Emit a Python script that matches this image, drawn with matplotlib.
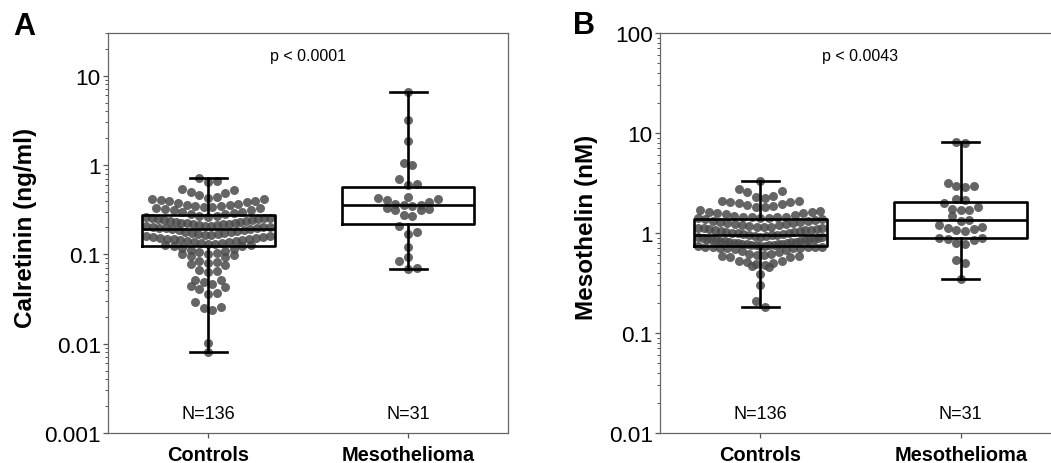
import numpy as np
import matplotlib
matplotlib.use("Agg")
import matplotlib.pyplot as plt

plt.rcParams['font.family'] = ['Liberation Sans', 'DejaVu Sans']

# ---------------- data ----------------
groups = ["Controls", "Mesothelioma"]
group_n = ["N=136", "N=31"]

calretinin_controls = [
    0.008, 0.0102, 0.024, 0.025, 0.026, 0.029, 0.036, 0.037, 0.041, 0.043,
    0.044, 0.047, 0.049, 0.051, 0.052, 0.063, 0.065, 0.067, 0.075, 0.077,
    0.080, 0.082, 0.085, 0.094, 0.096, 0.098, 0.100, 0.102, 0.104, 0.106,
    0.110, 0.113, 0.116, 0.119,
    0.124, 0.125, 0.127, 0.128, 0.130, 0.131, 0.133, 0.135, 0.136, 0.138,
    0.140, 0.142, 0.143, 0.145, 0.147, 0.149, 0.150, 0.152, 0.154, 0.156,
    0.158, 0.160, 0.162, 0.164, 0.166, 0.168, 0.170, 0.172, 0.175, 0.177,
    0.180, 0.183, 0.186, 0.189,
    0.191, 0.193, 0.195, 0.197, 0.199, 0.200, 0.202, 0.204, 0.206, 0.208,
    0.210, 0.212, 0.214, 0.216, 0.218, 0.220, 0.222, 0.225, 0.227, 0.230,
    0.232, 0.235, 0.238, 0.240, 0.243, 0.246, 0.249, 0.252, 0.255, 0.258,
    0.261, 0.264, 0.267, 0.270,
    0.28, 0.28, 0.29, 0.30, 0.30, 0.31, 0.31, 0.32, 0.33, 0.33,
    0.34, 0.34, 0.35, 0.35, 0.36, 0.36, 0.37, 0.38, 0.39, 0.40,
    0.40, 0.41, 0.42, 0.42, 0.43, 0.44, 0.46, 0.48, 0.50, 0.52,
    0.54, 0.64, 0.66, 0.72,
]
calretinin_meso = [
    0.068, 0.071, 0.085, 0.093, 0.122, 0.170, 0.176, 0.210, 0.265, 0.275,
    0.310, 0.315, 0.325, 0.330, 0.345, 0.355, 0.360, 0.370, 0.390, 0.410,
    0.420, 0.430, 0.440, 0.600, 0.620, 0.700, 1.00, 1.05, 1.85, 3.20, 6.50,
]
mesothelin_controls = [
    0.18, 0.21, 0.30, 0.39, 0.46, 0.47, 0.48, 0.49, 0.50, 0.51,
    0.52, 0.53, 0.57, 0.58, 0.59, 0.59, 0.60, 0.60, 0.61, 0.62,
    0.64, 0.66, 0.68, 0.69, 0.70, 0.70, 0.71, 0.71, 0.72, 0.72,
    0.73, 0.73, 0.73, 0.735,
    0.740, 0.745, 0.750, 0.755, 0.760, 0.765, 0.770, 0.775, 0.780, 0.785,
    0.790, 0.795, 0.800, 0.810, 0.815, 0.820, 0.830, 0.835, 0.840, 0.850,
    0.855, 0.860, 0.870, 0.875, 0.880, 0.890, 0.900, 0.905, 0.910, 0.920,
    0.930, 0.940, 0.950, 0.955,
    0.965, 0.97, 0.98, 0.99, 1.00, 1.01, 1.02, 1.03, 1.04, 1.05,
    1.06, 1.07, 1.08, 1.09, 1.10, 1.11, 1.12, 1.13, 1.14, 1.15,
    1.16, 1.18, 1.19, 1.20, 1.22, 1.23, 1.25, 1.26, 1.28, 1.29,
    1.31, 1.33, 1.35, 1.37,
    1.39, 1.40, 1.41, 1.42, 1.43, 1.44, 1.45, 1.46, 1.48, 1.50,
    1.55, 1.58, 1.60, 1.62, 1.63, 1.65, 1.68, 1.80, 1.82, 1.85,
    1.90, 1.95, 2.00, 2.02, 2.05, 2.08, 2.10, 2.25, 2.30, 2.35,
    2.60, 2.65, 2.75, 3.30,
]
mesothelin_meso = [
    0.347, 0.50, 0.54, 0.77, 0.79, 0.86, 0.88, 0.89, 0.90, 1.04,
    1.06, 1.10, 1.12, 1.14, 1.20, 1.32, 1.35, 1.48, 1.68, 1.70,
    1.72, 1.82, 2.00, 2.15, 2.17, 2.90, 2.93, 2.96, 3.16, 7.90, 8.10,
]

# box statistics (q1, median, q3)
calretinin_box = [(0.123, 0.19, 0.273), (0.216, 0.357, 0.573)]
mesothelin_box = [(0.736, 0.96, 1.38), (0.89, 1.35, 2.04)]

p_texts = ["p < 0.0001", "p < 0.0043"]
ylabels = ["Calretinin (ng/ml)", "Mesothelin (nM)"]
ylims = [(0.001, 30), (0.01, 100)]
yticks = [[0.001, 0.01, 0.1, 1, 10], [0.01, 0.1, 1, 10, 100]]
yticklabels = [["0.001", "0.01", "0.1", "1", "10"], ["0.01", "0.1", "1", "10", "100"]]

# ---------------- figure ----------------
W, H, DPI = 1051, 464, 100
fig = plt.figure(figsize=(W / DPI, H / DPI), dpi=DPI)

axA = fig.add_axes([108 / W, (H - 434) / H, 400 / W, 400 / H])
axB = fig.add_axes([660 / W, (H - 434) / H, 401 / W, 400 / H])

DOT_D = 8.6      # spacing of dots in a row (px)
BIN_H = 9.0      # height of a row bin (px)
BOX_W = 0.665
CAP_W = 0.185


def swarm_x(vals, center, ax):
    vals = np.asarray(vals, float)
    lo, hi = ax.get_ylim()
    ax_h_px = ax.get_position().height * H
    px_per_dec = ax_h_px / (np.log10(hi) - np.log10(lo))
    ax_w_px = ax.get_position().width * W
    x0, x1 = ax.get_xlim()
    px_per_unit = ax_w_px / (x1 - x0)
    d_units = DOT_D / px_per_unit
    max_span = 0.62
    ypx = np.log10(vals) * px_per_dec
    order = np.argsort(ypx, kind="stable")
    bins = []
    cur = []
    start = None
    for i in order:
        if start is None or ypx[i] - start >= BIN_H:
            if cur:
                bins.append(cur)
            cur = [i]
            start = ypx[i]
        else:
            cur.append(i)
    if cur:
        bins.append(cur)
    xs = np.zeros(len(vals))
    for b in bins:
        n = len(b)
        step = d_units
        if n > 1 and (n - 1) * step > max_span:
            step = max_span / (n - 1)
        if n % 2 == 1:
            slots = [0]
            k = 1
            while len(slots) < n:
                slots += [k, -k]
                k += 1
        else:
            slots = []
            k = 0.5
            while len(slots) < n:
                slots += [k, -k]
                k += 1
        slots = slots[:n]
        for idx, s in zip(b, slots):
            xs[idx] = center + s * step
    return xs


panels = [
    (axA, [calretinin_controls, calretinin_meso], calretinin_box, 0),
    (axB, [mesothelin_controls, mesothelin_meso], mesothelin_box, 1),
]

for ax, datasets, boxes, k in panels:
    ax.set_yscale("log")
    ax.set_ylim(*ylims[k])
    ax.set_xlim(-0.5, 1.5)
    for gi, vals in enumerate(datasets):
        xs = swarm_x(vals, gi, ax)
        ax.scatter(xs, vals, s=42, color="#4a4a4a", alpha=0.85,
                   linewidths=0, zorder=2)
    stats = []
    for gi, vals in enumerate(datasets):
        q1, med, q3 = boxes[gi]
        stats.append(dict(med=med, q1=q1, q3=q3, whislo=min(vals),
                          whishi=max(vals), fliers=[]))
    ax.bxp(stats, positions=[0, 1], widths=BOX_W, showfliers=False,
           patch_artist=False,
           boxprops=dict(color="black", linewidth=1.9),
           medianprops=dict(color="black", linewidth=1.9),
           whiskerprops=dict(color="black", linewidth=1.9),
           capprops=dict(color="black", linewidth=1.9),
           capwidths=CAP_W, manage_ticks=False)
    for art in ax.lines:
        art.set_zorder(3)
    ax.set_xticks([0, 1])
    ax.set_xticklabels(groups, fontsize=14.4, fontweight="bold")
    ax.set_yticks(yticks[k])
    ax.set_yticklabels(yticklabels[k], fontsize=16.2)
    ax.tick_params(axis="y", which="major", direction="out", length=3.6,
                   width=0.9, color="#555555", pad=1.5)
    ax.tick_params(axis="y", which="minor", direction="out", length=2.0,
                   width=0.7, color="#555555")
    ax.tick_params(axis="x", which="both", direction="out", length=3.6,
                   width=0.9, color="#555555", pad=5)
    ax.minorticks_on()
    ax.tick_params(axis="x", which="minor", bottom=False)
    for sp in ax.spines.values():
        sp.set_color("#666666")
        sp.set_linewidth(0.9)
    for gi, lab in enumerate(group_n):
        ax.text(gi, 0.0475, lab, transform=ax.get_xaxis_transform(),
                ha="center", va="center", fontsize=13)
    ax.text(0.5, 0.9425, p_texts[k], transform=ax.transAxes,
            ha="center", va="center", fontsize=11.5)

fig.text(26 / W, 1 - 228 / H, ylabels[0], rotation=90, ha="center",
         va="center", fontsize=17.5, fontweight="bold")
fig.text(587 / W, 1 - 227 / H, ylabels[1], rotation=90, ha="center",
         va="center", fontsize=17.5, fontweight="bold")
fig.text(24 / W, 1 - 27 / H, "A", ha="center", va="center",
         fontsize=22, fontweight="bold")
fig.text(584 / W, 1 - 26 / H, "B", ha="center", va="center",
         fontsize=22, fontweight="bold")

fig.savefig("out.png", dpi=DPI)
